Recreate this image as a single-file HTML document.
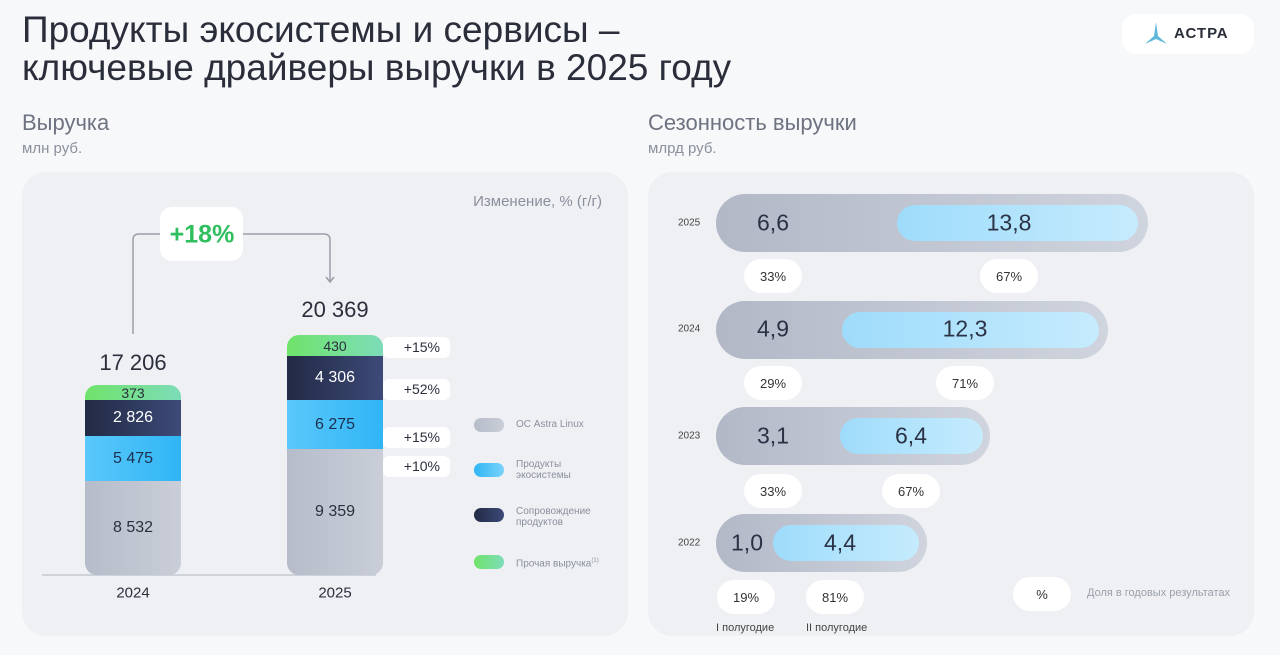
<!DOCTYPE html>
<html><head><meta charset="utf-8"><style>
*{margin:0;padding:0;box-sizing:border-box}
body{width:1280px;height:655px;background:#f7f8fa;font-family:"Liberation Sans","DejaVu Sans",sans-serif;position:relative;overflow:hidden;color:#2b2f3c}
.a{position:absolute}
.c{position:absolute;transform:translate(-50%,-50%);white-space:nowrap}
.panel{position:absolute;background:#eef0f4;border-radius:24px}
.seg{position:absolute;left:0;width:96px;display:flex;align-items:center;justify-content:center;font-size:16px}
.pc{position:absolute;background:#fff;border-radius:6px;font-size:14px;text-align:right;padding-right:10px;line-height:21px;width:67px;left:383px}
.sw{position:absolute;left:474px;width:30px;height:14px;border-radius:7px}
.lg{position:absolute;left:516px;font-size:10px;color:#8a909c;line-height:11px}
.outer{position:absolute;left:716px;height:58px;border-radius:29px;background:linear-gradient(90deg,#b2b8c6,#cfd4de)}
.inner{position:absolute;height:36px;border-radius:18px;background:linear-gradient(90deg,#9edcfb,#c6ebfd)}
.num{font-size:23px;color:#2b3245}
.pill{position:absolute;width:58px;height:34px;border-radius:17px;background:#fff;transform:translate(-50%,-50%);display:flex;align-items:center;justify-content:center;font-size:13px;color:#333}
.yr{position:absolute;left:678px;font-size:10px;color:#444;transform:translateY(-50%)}
</style></head><body>
<div class="a" style="left:22px;top:11px;font-size:37px;line-height:38px;color:#2a2e3a">Продукты экосистемы и сервисы –<br>ключевые драйверы выручки в 2025 году</div>
<div class="a" style="left:1122px;top:14px;width:132px;height:40px;background:#fff;border-radius:14px"></div>
<svg class="a" style="left:1142px;top:20px" width="28" height="28" viewBox="0 0 28 28"><path d="M14 2 L12 16 L3 24 L14 19 L25 24 L16 16 Z" fill="#5fb8dc"/></svg>
<div class="a" style="left:1174px;top:25px;font-size:15px;font-weight:bold;color:#2a2e3a;letter-spacing:1px">АСТРА</div>

<div class="a" style="left:22px;top:110px;font-size:22px;color:#6d7380">Выручка</div>
<div class="a" style="left:22px;top:140px;font-size:15px;color:#8a909c">млн руб.</div>
<div class="a" style="left:648px;top:110px;font-size:22px;color:#6d7380">Сезонность выручки</div>
<div class="a" style="left:648px;top:140px;font-size:15px;color:#8a909c">млрд руб.</div>

<div class="panel" style="left:22px;top:172px;width:606px;height:464px"></div>
<div class="panel" style="left:648px;top:172px;width:606px;height:464px"></div>

<div class="a" style="right:678px;top:193px;font-size:15px;color:#8a909c">Изменение, % (г/г)</div>

<svg class="a" style="left:0;top:0" width="640" height="655">
<path d="M133 334 V240 Q133 234 139 234 H160" stroke="#9aa0aa" stroke-width="1.5" fill="none"/>
<path d="M243 234 H324 Q330 234 330 240 V281 M326 277 L330 282 L334 277" stroke="#9aa0aa" stroke-width="1.5" fill="none"/>
<line x1="42" y1="575" x2="376" y2="575" stroke="#c4c8d0" stroke-width="1.5"/>
</svg>
<div class="a" style="left:160px;top:207px;width:83px;height:54px;background:#fff;border-radius:12px"></div>
<div class="c" style="left:202px;top:235px;font-size:25px;font-weight:bold;color:#2fbf5f">+18%</div>

<div class="c" style="left:133px;top:363px;font-size:22px">17 206</div>
<div class="c" style="left:335px;top:310px;font-size:22px">20 369</div>

<div class="a" style="left:85px;top:385px;width:96px;height:190px;border-radius:12px;overflow:hidden">
<div class="seg" style="top:0;height:15px;background:linear-gradient(90deg,#6fe36a,#7ddcb8);font-size:14px">373</div>
<div class="seg" style="top:15px;height:36px;background:linear-gradient(90deg,#222a45,#3d4a78);color:#fff">2 826</div>
<div class="seg" style="top:51px;height:45px;background:linear-gradient(90deg,#5ac8fb,#30b5f5);color:#1d3050">5 475</div>
<div class="seg" style="top:96px;height:94px;background:linear-gradient(90deg,#b6bcc9,#c9ced8)">8 532</div>
</div>
<div class="a" style="left:287px;top:335px;width:96px;height:240px;border-radius:12px;overflow:hidden">
<div class="seg" style="top:0;height:21px;background:linear-gradient(90deg,#6fe36a,#7ddcb8);font-size:14px">430</div>
<div class="seg" style="top:21px;height:44px;background:linear-gradient(90deg,#222a45,#3d4a78);color:#fff">4 306</div>
<div class="seg" style="top:65px;height:49px;background:linear-gradient(90deg,#5ac8fb,#30b5f5);color:#1d3050">6 275</div>
<div class="seg" style="top:114px;height:126px;background:linear-gradient(90deg,#b6bcc9,#c9ced8)">9 359</div>
</div>
<div class="pc" style="top:337px">+15%</div>
<div class="pc" style="top:379px">+52%</div>
<div class="pc" style="top:427px">+15%</div>
<div class="pc" style="top:456px">+10%</div>
<div class="c" style="left:133px;top:593px;font-size:15px">2024</div>
<div class="c" style="left:335px;top:593px;font-size:15px">2025</div>

<div class="sw" style="top:418px;background:linear-gradient(90deg,#b6bcc9,#c9ced8)"></div><div class="lg" style="top:419px">ОС Astra Linux</div>
<div class="sw" style="top:463px;background:linear-gradient(90deg,#30b5f5,#7ad3fb)"></div><div class="lg" style="top:459px">Продукты<br>экосистемы</div>
<div class="sw" style="top:508px;background:linear-gradient(90deg,#222a45,#3d4a78)"></div><div class="lg" style="top:506px">Сопровождение<br>продуктов</div>
<div class="sw" style="top:555px;background:linear-gradient(90deg,#6fe36a,#7ddcb8)"></div><div class="lg" style="top:556px">Прочая выручка<sup style="font-size:6px">(1)</sup></div>

<div class="yr" style="top:223px">2025</div>
<div class="outer" style="top:194px;width:432px"></div><div class="inner" style="left:897px;top:205px;width:241px"></div>
<div class="c num" style="left:773px;top:223px">6,6</div><div class="c num" style="left:1009px;top:223px">13,8</div>
<div class="pill" style="left:773px;top:276px">33%</div><div class="pill" style="left:1009px;top:276px">67%</div>

<div class="yr" style="top:329px">2024</div>
<div class="outer" style="top:301px;width:392px"></div><div class="inner" style="left:842px;top:312px;width:257px"></div>
<div class="c num" style="left:773px;top:329px">4,9</div><div class="c num" style="left:965px;top:329px">12,3</div>
<div class="pill" style="left:773px;top:383px">29%</div><div class="pill" style="left:965px;top:383px">71%</div>

<div class="yr" style="top:436px">2023</div>
<div class="outer" style="top:407px;width:274px"></div><div class="inner" style="left:840px;top:418px;width:143px"></div>
<div class="c num" style="left:773px;top:436px">3,1</div><div class="c num" style="left:911px;top:436px">6,4</div>
<div class="pill" style="left:773px;top:491px">33%</div><div class="pill" style="left:911px;top:491px">67%</div>

<div class="yr" style="top:543px">2022</div>
<div class="outer" style="top:514px;width:211px"></div><div class="inner" style="left:773px;top:525px;width:146px"></div>
<div class="c num" style="left:747px;top:543px">1,0</div><div class="c num" style="left:840px;top:543px">4,4</div>
<div class="pill" style="left:746px;top:597px">19%</div><div class="pill" style="left:835px;top:597px">81%</div>
<div class="pill" style="left:1042px;top:594px">%</div>
<div class="a" style="left:1087px;top:587px;font-size:11px;color:#9aa0aa">Доля в годовых результатах</div>
<div class="a" style="left:716px;top:622px;font-size:11px;color:#444">I полугодие</div>
<div class="a" style="left:806px;top:622px;font-size:11px;color:#444">II полугодие</div>
</body></html>
